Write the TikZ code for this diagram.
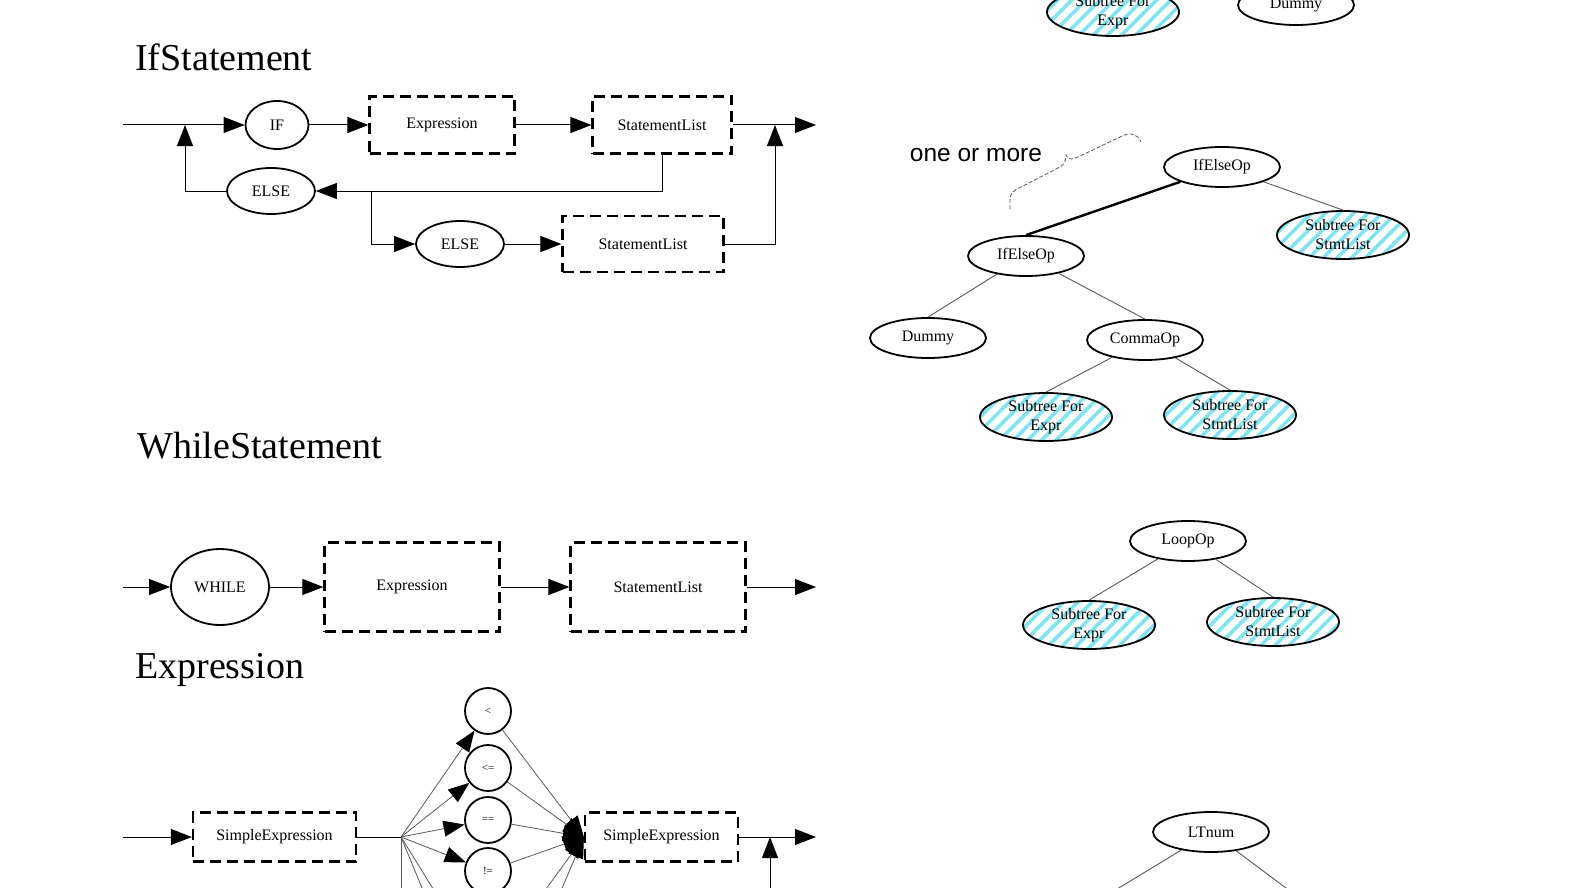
\documentclass[tikz,border=0pt]{standalone}
\usepackage{fontspec}
\setmainfont{Liberation Serif}
\newfontfamily\notesans{Liberation Sans}
\usetikzlibrary{shapes.geometric,arrows.meta,patterns.meta}
\definecolor{hatch}{RGB}{125,228,242}
\definecolor{edgegray}{RGB}{90,90,90}

\begin{document}
\begin{tikzpicture}[x=1pt,y=-1pt,
  lbl/.style={font=\fontsize{16}{19}\selectfont},
  oval/.style={draw,ellipse,line width=1.8pt,inner sep=0pt,lbl},
  dbox/.style={draw,rectangle,line width=2.2pt,dash pattern=on 11pt off 6pt,inner sep=0pt,lbl},
  opc/.style={draw,circle,line width=1.8pt,inner sep=0pt,minimum size=46pt,font=\fontsize{11}{13}\selectfont},
  arr/.style={line width=1pt,-{Triangle[length=21pt,width=16pt,color=black]}},
  flow/.style={line width=1pt},
  thin/.style={line width=0.8pt,draw=edgegray},
  title/.style={font=\fontsize{38}{40}\selectfont,anchor=west,inner sep=0pt},
  tnode/.style={oval,minimum width=116pt,minimum height=40pt},
  sub/.style={oval,minimum width=132pt,minimum height=48pt,align=center,
    pattern={Lines[angle=45,distance=10pt,line width=3.5pt]},pattern color=hatch},
  tedge/.style={draw=edgegray,line width=0.9pt}
]
\clip (0,0) rectangle (1576,888);
\fill[white] (0,0) rectangle (1576,888);

% ---------------- IfStatement ----------------
\node[title] (tIf) at (135,57) {IfStatement};
\node[oval,minimum width=63pt,minimum height=48pt] (if) at (277,125) {IF};
\node[dbox,minimum width=145pt,minimum height=57pt] (ex1) at (442,125) {Expression};
\node[dbox,minimum width=139pt,minimum height=57pt] (sl1) at (662,125) {StatementList};
\node[oval,minimum width=88pt,minimum height=46pt] (el1) at (271,191) {ELSE};
\node[oval,minimum width=88pt,minimum height=46pt] (el2) at (460,244) {ELSE};
\node[dbox,minimum width=161pt,minimum height=56pt] (sl2) at (643,244) {StatementList};
\coordinate (in1) at (123,125);
\coordinate (j1) at (185,125);
\coordinate (j2) at (775,125);
\coordinate (out1) at (816,125);
\coordinate (b1) at (371,191);

\draw[arr] (in1) -- (if.west);
\draw[arr] (if) -- (ex1);
\draw[arr] (ex1) -- (sl1);
\draw[arr] (sl1) -- (out1);
\draw[arr] (sl1.south) |- (el1.east);
\draw[arr] (el1.west) -| (j1);
\draw[arr] (b1) |- (el2.west);
\draw[arr] (el2) -- (sl2);
\draw[arr] (sl2.east) -| (j2);

% ---------------- WhileStatement ----------------
\node[title] (tWh) at (137,446) {WhileStatement};
\node[oval,minimum width=98pt,minimum height=76pt] (wh) at (220,587) {WHILE};
\node[dbox,minimum width=175pt,minimum height=89pt] (ex2) at (412,587) {Expression};
\node[dbox,minimum width=175pt,minimum height=89pt] (sl3) at (658,587) {StatementList};
\coordinate (in2) at (123,587);
\coordinate (out2) at (816,587);
\draw[arr] (in2) -- (wh.west);
\draw[arr] (wh) -- (ex2);
\draw[arr] (ex2) -- (sl3);
\draw[arr] (sl3) -- (out2);

% ---------------- Expression ----------------
\node[title] (tEx) at (135,670) {Expression};
\node[dbox,minimum width=163pt,minimum height=49pt] (se1) at (274.5,837) {SimpleExpression};
\node[dbox,minimum width=153pt,minimum height=49pt] (se2) at (661.5,837) {SimpleExpression};
\node[opc] (lt) at (488,711) {<};
\node[opc] (le) at (488,768) {<=};
\node[opc] (eq) at (488,820) {==};
\node[opc] (ne) at (488,871) {!=};
\coordinate (in3) at (123,837);
\coordinate (fan) at (401,837);
\coordinate (d1) at (401,900);
\coordinate (d2) at (427,900);
\coordinate (d3) at (440,900);
\coordinate (u1) at (538,900);
\coordinate (u2) at (557,900);
\coordinate (out3) at (816,837);
\coordinate (j3) at (770,837);
\coordinate (up3) at (770,900);

\draw[arr] (in3) -- (se1.west);
\draw[flow] (se1.east) -- (fan);
\foreach \n in {lt,le,eq,ne} \draw[arr,thin] (fan) -- (\n);
\foreach \n in {d1,d2,d3} \draw[thin] (fan) -- (\n);
\foreach \n in {lt,le,eq,ne} \draw[arr,thin] (\n) -- (se2.west);
\foreach \n in {u1,u2} \draw[arr,thin] (\n) -- (se2.west);
\draw[arr] (se2) -- (out3);
\draw[arr] (up3) -- (j3);

% ---------------- syntax trees ----------------
\node[sub] (sx0) at (1113,12) {Subtree For\\Expr};
\node[tnode] (dm0) at (1296,5) {Dummy};

\node[font=\notesans\fontsize{24.5}{27}\selectfont,inner sep=0pt] (om) at (976,155) {one or more};
\node[tnode] (ie1) at (1222,167) {IfElseOp};
\node[sub] (ss1) at (1343,235) {Subtree For\\StmtList};
\node[tnode] (ie2) at (1026,256) {IfElseOp};
\node[tnode] (dm1) at (928,338) {Dummy};
\node[tnode] (cm) at (1145,340) {CommaOp};
\node[sub] (sx2) at (1046,417) {Subtree For\\Expr};
\node[sub] (ss2) at (1230,415) {Subtree For\\StmtList};

\draw[line width=2.4pt] (ie1.south west) -- (ie2.north);
\draw[tedge] (ie1) -- (ss1.north);
\draw[tedge] (ie2) -- (dm1.north);
\draw[tedge] (ie2) -- (cm.north);
\draw[tedge] (cm) -- (sx2.north);
\draw[tedge] (cm) -- (ss2.north);

% dashed brace marking the repeated IfElseOp chain
\draw[draw=edgegray,line width=0.8pt,dash pattern=on 4pt off 2pt]
  (1010,209) -- (1010,200) .. controls (1010,193) and (1014,190) .. (1021,187)
  -- (1058,168) .. controls (1064,165) and (1066,162) .. (1066,155)
  .. controls (1068,160) and (1072,160) .. (1078,157)
  -- (1122,136) .. controls (1130,132) and (1138,134) .. (1141,142);

\node[tnode] (lp) at (1188,541) {LoopOp};
\node[sub] (sx3) at (1089,625) {Subtree For\\Expr};
\node[sub] (ss3) at (1273,622) {Subtree For\\StmtList};
\draw[tedge] (lp) -- (sx3.north);
\draw[tedge] (lp) -- (ss3.north);

\node[tnode] (ltn) at (1211,832) {LTnum};
\coordinate (l1) at (1099,900);
\coordinate (l2) at (1302,900);
\draw[tedge] (ltn) -- (l1);
\draw[tedge] (ltn) -- (l2);
\end{tikzpicture}
\end{document}
